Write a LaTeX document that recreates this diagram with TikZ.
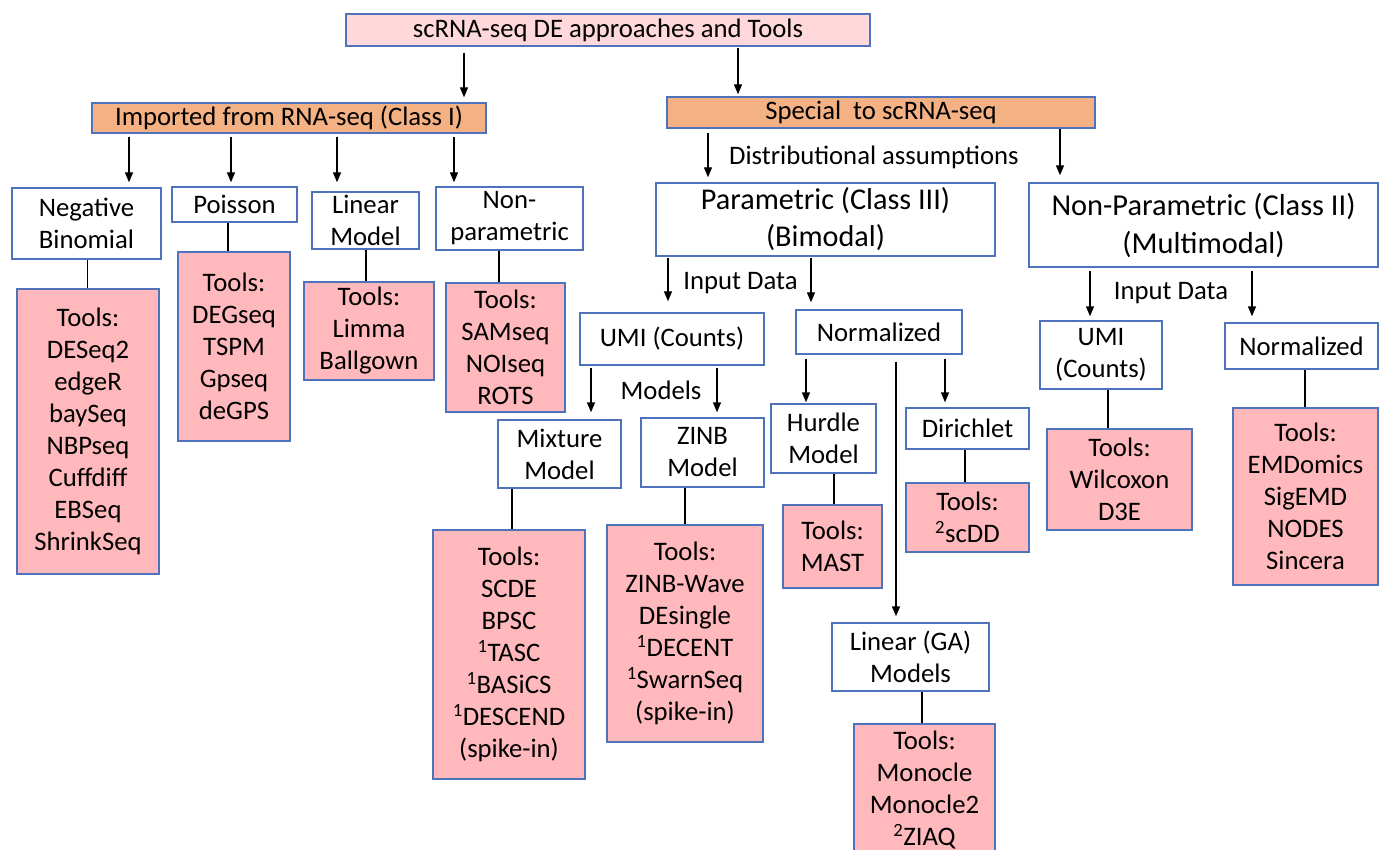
\documentclass[tikz,border=0pt]{standalone}
\usepackage{fontspec}
\setmainfont{Carlito}
\usetikzlibrary{arrows.meta}
\definecolor{bblue}{RGB}{79,114,189}
\definecolor{toolpink}{RGB}{255,184,187}
\definecolor{titlepink}{RGB}{255,216,219}
\definecolor{orangeF}{RGB}{244,177,131}
\tikzset{
  base/.style={draw=bblue, line width=1.4pt, inner sep=0pt, align=center,
    font=\fontsize{26.7}{32}\selectfont, text=black},
  wbox/.style={base, fill=white},
  tbox/.style={base, fill=toolpink},
  obox/.style={base, fill=orangeF},
  ttlbox/.style={base, fill=titlepink},
  bigA/.style={font=\fontsize{30.2}{37}\selectfont},
  bigB/.style={font=\fontsize{30.4}{38}\selectfont},
  arr/.style={line width=1.4pt, -{Triangle[length=10pt,width=8pt]}},
  ln/.style={line width=1.4pt},
  lbl/.style={font=\fontsize{26.7}{32}\selectfont, inner sep=0pt},
}
% \bx{style}{name}{cx,cy}{w}{h}{text}
\newcommand\bx[6]{\node[#1, minimum width=#4pt, minimum height=#5pt] (#2) at (#3) {#6};}
% \vArr{src}{dst}{x}{gap-at-src}{gap-at-dst}
\newcommand\vArr[5]{\coordinate (tmpx) at (#3,0);
  \draw[arr] ([yshift=-#4pt]#1.south -| tmpx) -- ([yshift=#5pt]#2.north -| tmpx);}
\newcommand\vLn[3]{\coordinate (tmpx) at (#3,0);
  \draw[ln] (#1.south -| tmpx) -- (#2.north -| tmpx);}
\newcommand\supr[1]{\textsuperscript{#1}}
\begin{document}
\begin{tikzpicture}[x=1pt,y=-1pt]
\useasboundingbox (0,0) rectangle (1381,850);
\clip (0,0) rectangle (1381,850);
\fill[white] (0,0) rectangle (1381,850);

% top level
\bx{ttlbox}{title}{608,30}{524}{32}{scRNA-seq DE approaches and Tools}
\bx{obox}{imp}{289,118}{394}{30}{Imported from RNA-seq (Class I)}
\bx{obox}{spec}{881,112.5}{428}{31}{Special~ to scRNA-seq}

% Class I
\bx{wbox}{nb}{86.5,223.5}{149}{71}{Negative\\Binomial}
\bx{wbox}{poi}{234.5,204.5}{125}{35}{Poisson}
\bx{wbox}{lin}{365.5,220.5}{107}{57}{Linear\\Model}
\bx{wbox}{np}{509.5,218.5}{147}{63}{Non-\\parametric}
\bx{tbox}{nbt}{88,431.5}{142}{285}{Tools:\\DESeq2\\edgeR\\baySeq\\NBPseq\\Cuffdiff\\EBSeq\\ShrinkSeq}
\bx{tbox}{poit}{234,346.5}{112}{189}{Tools:\\DEGseq\\TSPM\\Gpseq\\deGPS}
\bx{tbox}{lint}{369,331}{130}{98}{Tools:\\Limma\\Ballgown}
\bx{tbox}{npt}{505.5,347.5}{119}{129}{Tools:\\SAMseq\\NOIseq\\ROTS}

% Special
\bx{wbox,bigA}{par}{825.5,219.5}{339}{73}{Parametric (Class III)\\(Bimodal)}
\bx{wbox,bigB}{nonpar}{1203.5,225}{349}{84}{Non-Parametric (Class II)\\(Multimodal)}
\node[lbl, anchor=west] (dist) at (729,157) {Distributional assumptions};

\bx{wbox}{umi}{672,339}{184}{52}{UMI (Counts)}
\bx{wbox}{norm}{879,332}{166}{44}{Normalized}
\node[lbl] (inp1) at (740.5,283) {Input Data};

\bx{wbox}{mix}{559.5,454}{123}{68}{Mixture\\Model}
\bx{wbox}{zinb}{702.5,452.5}{123}{69}{ZINB\\Model}
\node[lbl] (models) at (661,390) {Models};
\bx{tbox}{mixt}{509,654.5}{152}{249}{Tools:\\SCDE\\BPSC\\\supr{1}TASC\\\supr{1}BASiCS\\\supr{1}DESCEND\\(spike-in)}
\bx{tbox}{zinbt}{685,633.5}{156}{217}{Tools:\\ZINB-Wave\\DEsingle\\\supr{1}DECENT\\\supr{1}SwarnSeq\\(spike-in)}

\bx{wbox}{hur}{823.5,438.5}{105}{69}{Hurdle\\Model}
\bx{wbox}{dir}{967.5,428.5}{123}{41}{Dirichlet}
\bx{tbox}{hurt}{832.5,546.5}{99}{83}{Tools:\\MAST}
\bx{tbox}{dirt}{967.5,517.5}{123}{69}{Tools:\\\supr{2}scDD}
\bx{wbox}{lga}{910.5,657}{157}{68}{Linear (GA)\\Models}
\bx{tbox}{lgat}{924.5,790}{141}{132}{Tools:\\Monocle\\Monocle2\\\supr{2}ZIAQ}

\bx{wbox}{umi2}{1101,355}{122}{68}{UMI\\(Counts)}
\bx{wbox}{norm2}{1301.5,346}{153}{46}{Normalized}
\node[lbl] (inp2) at (1171,293) {Input Data};
\bx{tbox}{umit}{1119.5,479.5}{145}{101}{Tools:\\Wilcoxon\\D3E}
\bx{tbox}{norm2t}{1305.5,496.5}{145}{177}{Tools:\\EMDomics\\SigEMD\\NODES\\Sincera}

% arrows
\vArr{title}{imp}{464}{6}{5}
\vArr{title}{spec}{738}{1}{2}
\vArr{imp}{nb}{129}{3}{5}
\vArr{imp}{poi}{231}{3}{4}
\vArr{imp}{lin}{337}{3}{9}
\vArr{imp}{np}{454}{3}{4}
\vArr{spec}{par}{708}{4}{5}
\vArr{spec}{nonpar}{1060}{0}{7}
\vArr{par}{umi}{668}{1}{11}
\vArr{par}{norm}{811}{1}{7}
\vArr{nonpar}{umi2}{1090}{3}{4}
\vArr{nonpar}{norm2}{1252}{3}{6}
\vArr{umi}{mix}{591}{2}{7}
\vArr{umi}{zinb}{717}{2}{5}
\vArr{norm}{hur}{806}{4}{1}
\vArr{norm}{dir}{945}{4}{5}
\vArr{norm}{lga}{896}{7}{6}

% plain lines
\vLn{nb}{nbt}{87.5}
\vLn{poi}{poit}{228}
\vLn{lin}{lint}{366}
\vLn{np}{npt}{499}
\vLn{mix}{mixt}{512}
\vLn{zinb}{zinbt}{685}
\vLn{hur}{hurt}{834}
\vLn{dir}{dirt}{965}
\vLn{lga}{lgat}{922}
\vLn{umi2}{umit}{1108}
\vLn{norm2}{norm2t}{1305}
\end{tikzpicture}
\end{document}
